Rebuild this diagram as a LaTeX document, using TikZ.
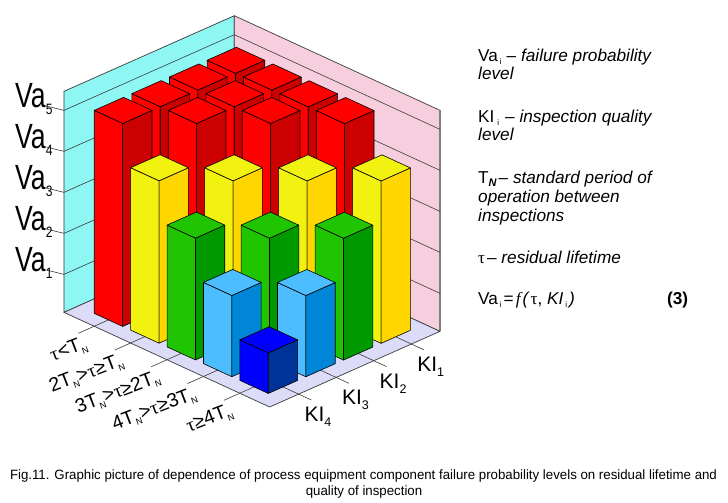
\documentclass[tikz,border=0pt]{standalone}
\usepackage{fontspec}
\setmainfont{Liberation Sans}
\newfontfamily\serifgreek{Liberation Serif}
\usepackage{graphicx}
\usetikzlibrary{calc}

\definecolor{redL}{HTML}{FF0000}
\definecolor{redD}{HTML}{CC0000}
\definecolor{yelL}{HTML}{F2F211}
\definecolor{yelD}{HTML}{FFD600}
\definecolor{grnL}{HTML}{20C400}
\definecolor{grnD}{HTML}{009A00}
\definecolor{lbL}{HTML}{4CBDFF}
\definecolor{lbD}{HTML}{0086D6}
\definecolor{bluL}{HTML}{0000FF}
\definecolor{bluD}{HTML}{00339A}
\definecolor{wallL}{HTML}{8FF7F3}
\definecolor{wallR}{HTML}{F6CEDD}
\definecolor{floorC}{HTML}{DCDCF9}
\definecolor{edgeC}{HTML}{3C3C3C}

\newcommand{\vasub}[1]{\raisebox{-6.7pt}{\scalebox{0.8}[1]{\fontsize{15}{15}\selectfont #1}}}
\newcommand{\kisub}[1]{\raisebox{-5pt}{\fontsize{12.5}{12.5}\selectfont #1}}
\newcommand{\tsub}[1]{\raisebox{-4pt}{\fontsize{9}{9}\selectfont #1}}
\newcommand{\rsub}[1]{\raisebox{-3pt}{\fontsize{8}{8}\selectfont #1}}
\newcommand{\tauglyph}{{\serifgreek τ}}

\newcommand{\drawbar}[5]{%
  \pgfmathsetmacro{\uA}{0.44+#1-1}%
  \pgfmathsetmacro{\uB}{\uA+0.78}%
  \pgfmathsetmacro{\vA}{0.37+#2-1}%
  \pgfmathsetmacro{\vB}{\vA+0.78}%
  \filldraw[barline, fill=#4] (\uA,\vB,0) -- (\uB,\vB,0) -- (\uB,\vB,#3) -- (\uA,\vB,#3) -- cycle;
  \filldraw[barline, fill=#5] (\uB,\vA,0) -- (\uB,\vB,0) -- (\uB,\vB,#3) -- (\uB,\vA,#3) -- cycle;
  \filldraw[barline, fill=#4] (\uA,\vA,#3) -- (\uB,\vA,#3) -- (\uB,\vB,#3) -- (\uA,\vB,#3) -- cycle;
}

\newsavebox\capA

\begin{document}
\begin{tikzpicture}[x=1pt,y=1pt,
  wall/.style={draw=edgeC, line width=0.7pt, line join=round},
  gridln/.style={draw=edgeC, line width=0.6pt},
  barline/.style={draw=black, line width=0.6pt, line join=round},
  tickln/.style={draw=edgeC, line width=0.6pt},
  valab/.style={inner sep=0pt, anchor=base west, font=\fontsize{35}{35}\selectfont},
  kilab/.style={inner sep=0pt, anchor=north west, font=\fontsize{21}{21}\selectfont},
  taulab/.style={inner sep=0pt, anchor=north east, rotate=21, font=\fontsize{19.5}{19.5}\selectfont},
  rtext/.style={inner sep=0pt, anchor=base west, font=\fontsize{17.2}{18}\selectfont},
  captext/.style={inner sep=0pt, anchor=base, font=\fontsize{13.5}{16}\selectfont},
]
\useasboundingbox (0,-503) rectangle (728,0);
\fill[white] (0,-503) rectangle (728,0);

\begin{scope}[shift={(234.3,-236.7)}, x={(36.4pt,-16.75pt)}, y={(-37.6pt,-16.7pt)}, z={(0pt,1pt)}]
  % walls and floor
  \filldraw[wall, fill=wallL] (0,0,0) -- (0,4.53,0) -- (0,4.53,221) -- (0,0,221) -- cycle;
  \filldraw[wall, fill=wallR] (0,0,0) -- (5.65,0,0) -- (5.65,0,221) -- (0,0,221) -- cycle;
  \draw[gray, line width=1.4pt] (5.65,0,0) -- (5.65,0,221);
  \filldraw[wall, fill=floorC] (0,0,0) -- (5.65,0,0) -- (5.65,4.53,0) -- (0,4.53,0) -- cycle;
  \foreach \h in {38,79,120,161,202} {
    \draw[gridln] (0,4.53,\h) -- (0,0,\h) -- (5.65,0,\h);
  }
  % Va ticks
  \foreach \h/\k in {38/1,79/2,120/3,161/4,202/5} {
    \draw[tickln] (0,4.53,\h) -- ++(-17.6pt,4.3pt) coordinate (vt\k);
  }
  % floor ticks
  \foreach \i in {1,...,5} {
    \pgfmathsetmacro\uc{0.83+\i-1}
    \draw[tickln] (\uc,3.76,0) -- (\uc,4.95,0) coordinate (tt\i);
  }
  \foreach \j in {1,...,4} {
    \pgfmathsetmacro\vc{0.76+\j-1}
    \draw[tickln] (4.83,\vc,0) -- (6.0,\vc,0) coordinate (kt\j);
  }
  % bars, back to front
  \drawbar{1}{1}{203}{redL}{redD}
  \drawbar{1}{2}{203}{redL}{redD}
  \drawbar{2}{1}{203}{redL}{redD}
  \drawbar{1}{3}{203}{redL}{redD}
  \drawbar{2}{2}{203}{redL}{redD}
  \drawbar{3}{1}{203}{redL}{redD}
  \drawbar{1}{4}{203}{redL}{redD}
  \drawbar{2}{3}{203}{redL}{redD}
  \drawbar{3}{2}{203}{redL}{redD}
  \drawbar{4}{1}{203}{redL}{redD}
  \drawbar{2}{4}{162.4}{yelL}{yelD}
  \drawbar{3}{3}{162.4}{yelL}{yelD}
  \drawbar{4}{2}{162.4}{yelL}{yelD}
  \drawbar{5}{1}{162.4}{yelL}{yelD}
  \drawbar{3}{4}{121.8}{grnL}{grnD}
  \drawbar{4}{3}{121.8}{grnL}{grnD}
  \drawbar{5}{2}{121.8}{grnL}{grnD}
  \drawbar{4}{4}{81.2}{lbL}{lbD}
  \drawbar{5}{3}{81.2}{lbL}{lbD}
  \drawbar{5}{4}{40.6}{bluL}{bluD}
\end{scope}

% Va labels
\node[valab] (va5) at (15,-107.4) {\scalebox{0.76}[1]{Va}\vasub{5}};
\node[valab] (va4) at (15,-148.4) {\scalebox{0.76}[1]{Va}\vasub{4}};
\node[valab] (va3) at (15,-189.4) {\scalebox{0.76}[1]{Va}\vasub{3}};
\node[valab] (va2) at (15,-230.4) {\scalebox{0.76}[1]{Va}\vasub{2}};
\node[valab] (va1) at (15,-271.4) {\scalebox{0.76}[1]{Va}\vasub{1}};

% tau labels
\node[taulab] (tau1) at ($(tt1)+(5,-2)$) {\tauglyph<T\tsub{N}};
\node[taulab] (tau2) at ($(tt2)+(5,-2)$) {2T\tsub{N}>\tauglyph≥T\tsub{N}};
\node[taulab] (tau3) at ($(tt3)+(5,-2)$) {3T\tsub{N}>\tauglyph≥2T\tsub{N}};
\node[taulab] (tau4) at ($(tt4)+(5,-2)$) {4T\tsub{N}>\tauglyph≥3T\tsub{N}};
\node[taulab] (tau5) at ($(tt5)+(5,-2)$) {\tauglyph≥4T\tsub{N}};

% KI labels
\node[kilab] (ki1) at ($(kt1)+(-7,-7)$) {KI\kisub{1}};
\node[kilab] (ki2) at ($(kt2)+(-7,-7)$) {KI\kisub{2}};
\node[kilab] (ki3) at ($(kt3)+(-7,-7)$) {KI\kisub{3}};
\node[kilab] (ki4) at ($(kt4)+(-7,-7)$) {KI\kisub{4}};

% right-hand text
\node[rtext] (r1) at (478,-62) {Va\hspace{2pt}\rsub{i}\hspace{5pt}–\ \textit{failure probability}};
\node[rtext] (r2) at (478,-80) {\textit{level}};
\node[rtext] (r3) at (478,-122) {KI\hspace{3pt}\rsub{i}\hspace{6pt}–\ \textit{inspection quality}};
\node[rtext] (r4) at (478,-140) {\textit{level}};
\node[rtext] (r5) at (478,-183) {T\raisebox{-3pt}{\fontsize{11}{11}\selectfont\bfseries\itshape N}\hspace{2pt}–\ \textit{standard period of}};
\node[rtext] (r6) at (478,-202) {\textit{operation between}};
\node[rtext] (r7) at (478,-221) {\textit{inspections}};
\node[rtext] (r8) at (478,-263) {\tauglyph\hspace{2pt}–\ \textit{residual lifetime}};
\node[rtext] (r9) at (478,-304) {Va\hspace{2pt}\rsub{i}\hspace{2pt}=\hspace{2pt}{\serifgreek\itshape f}\hspace{2pt}\textit{(}\hspace{1pt}\tauglyph,\ \textit{KI}\hspace{2pt}\rsub{i}\hspace{2pt}\textit{)}};
\node[rtext] (r10) at (667,-304) {\textbf{(3)}};

% caption
\node[captext] (cap1) at (363.5,-479) {\global\setbox\capA\hbox{Fig.11. Graphic picture of dependence of process equipment component failure probability levels on residual lifetime and}\pgfmathsetmacro\capscale{707/\wd\capA}\xdef\capscaleG{\capscale}\scalebox{\capscale}[1]{\usebox\capA}};
\node[captext] (cap2) at (364,-495) {\scalebox{\capscaleG}[1]{quality of inspection}};
\end{tikzpicture}
\end{document}
